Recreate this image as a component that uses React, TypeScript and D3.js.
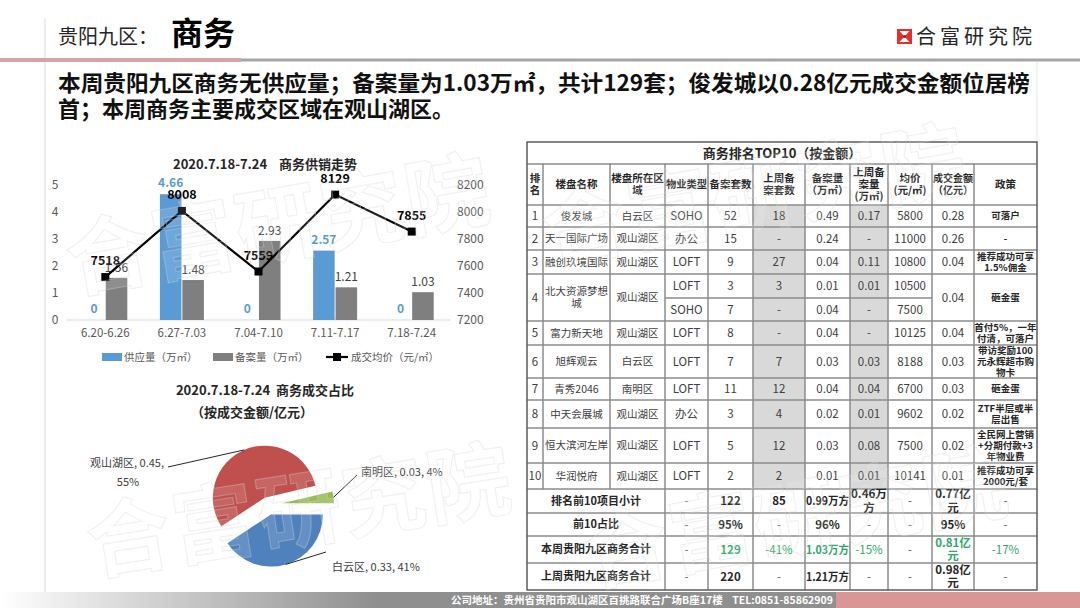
import React from "react";
import * as d3 from "d3";

// ---------- chart data ----------
const weeks = ["6.20-6.26", "6.27-7.03", "7.04-7.10", "7.11-7.17", "7.18-7.24"];
const supplyArea = [0, 4.66, 0, 2.57, 0];
const filedArea = [1.56, 1.48, 2.93, 1.21, 1.03];
const avgPrice = [7518, 8008, 7559, 8129, 7855];
const areaTicks = [0, 1, 2, 3, 4, 5];
const priceTicks = [7200, 7400, 7600, 7800, 8000, 8200];

const districts = ["南明区", "白云区", "观山湖区"];
const districtAmount = [0.03, 0.33, 0.45];
const districtShare = ["4%", "41%", "55%"];

// ---------- table data ----------
const tableHeaders = [
  "排\n名", "楼盘名称", "楼盘所在区\n域", "物业类型", "备案套数", "上周备\n案套数",
  "备案量\n（万㎡）", "上周备\n案量\n(万㎡)", "均价\n(元/㎡)", "成交金额\n（亿元）", "政策",
];
const projectNames = ["俊发城", "天一国际广场", "融创玖境国际", "北大资源梦想\n城", "富力新天地", "旭辉观云", "青秀2046", "中天会展城", "恒大滨河左岸", "华润悦府"];
const projectDistricts = ["白云区", "观山湖区", "观山湖区", "观山湖区", "观山湖区", "白云区", "南明区", "观山湖区", "观山湖区", "观山湖区"];
const propertyTypes = [["SOHO"], ["办公"], ["LOFT"], ["LOFT", "SOHO"], ["LOFT"], ["LOFT"], ["LOFT"], ["办公"], ["LOFT"], ["LOFT"]];
const filedUnits = [["52"], ["15"], ["9"], ["3", "7"], ["8"], ["7"], ["11"], ["3"], ["5"], ["2"]];
const lastWeekUnits = [["18"], ["-"], ["27"], ["3", "-"], ["-"], ["7"], ["12"], ["4"], ["12"], ["2"]];
const filedAreas = [["0.49"], ["0.24"], ["0.04"], ["0.01", "0.04"], ["0.04"], ["0.03"], ["0.04"], ["0.02"], ["0.03"], ["0.01"]];
const lastWeekAreas = [["0.17"], ["-"], ["0.11"], ["0.01", "-"], ["-"], ["0.03"], ["0.04"], ["0.01"], ["0.08"], ["0.01"]];
const unitPrices = [["5800"], ["11000"], ["10800"], ["10500", "7500"], ["10125"], ["8188"], ["6700"], ["9602"], ["7500"], ["10141"]];
const dealAmounts = ["0.28", "0.26", "0.04", "0.04", "0.04", "0.03", "0.03", "0.02", "0.02", "0.01"];
const policies = [
  "可落户", "-", "推荐成功可享\n1.5%佣金", "砸金蛋", "首付5%，一年\n付清，可落户",
  "带访奖励100\n元永辉超市购\n物卡", "砸金蛋", "ZTF半层或半\n层出售", "全民网上营销\n+分期付款+3\n年物业费", "推荐成功可享\n2000元/套",
];
const summaryLabels = ["排名前10项目小计", "前10占比", "本周贵阳九区商务合计", "上周贵阳九区商务合计"];
const summaryValues = [
  ["-", "122", "85", "0.99万方", "0.46万\n方", "-", "0.77亿\n元", "-"],
  ["-", "95%", "-", "96%", "-", "-", "95%", "-"],
  ["-", "129", "-41%", "1.03万方", "-15%", "-", "0.81亿\n元", "-17%"],
  ["-", "220", "-", "1.21万方", "-", "-", "0.98亿\n元", "-"],
];

const FONT = "'Noto Sans CJK SC', 'Noto Sans', sans-serif";
const BLUE = "#5b9bd5";
const GREY = "#7f7f7f";
const AXIS_TEXT = "#595959";

// table grid (layout)
const COLS = [527, 543, 610, 665, 708, 753, 805, 850, 888, 932, 974, 1037];
const ROWS = [142, 164, 205, 227, 250, 274, 298, 321, 345, 378, 400, 428, 463, 489, 513, 536, 563, 590];

const estWidth = (s: string, fs: number) => {
  let w = 0;
  for (const ch of s) w += /[\u0000-\u00ff]/.test(ch) ? 0.56 : 1;
  return w * fs;
};

function Watermarks() {
  const marks = [
    { x: 72, y: 292, a: -10 },
    { x: 92, y: 574, a: -9 },
    { x: 548, y: 262, a: -10 },
    { x: 590, y: 585, a: -10 },
  ];
  return (
    <g pointerEvents="none">
      {marks.map((m, i) => (
        <text
          key={i}
          x={m.x}
          y={m.y}
          transform={`rotate(${m.a},${m.x},${m.y})`}
          fontSize={84}
          fontWeight={700}
          fill="#ffffff"
          fillOpacity={0.12}
          stroke="#d4d4d4"
          strokeOpacity={0.35}
          strokeWidth={1.1}
          letterSpacing={2}
        >
          合富研究院
        </text>
      ))}
    </g>
  );
}

function Header() {
  return (
    <g>
      <line x1={45} y1={18} x2={45} y2={608} stroke="#d9d9d9" strokeWidth={1} />
      <line x1={1037} y1={62} x2={1037} y2={142} stroke="#e3e3e3" strokeWidth={1} />
      <text x={58} y={44} fontSize={20} fill="#262626">贵阳九区：</text>
      <text x={171} y={45} fontSize={32} fontWeight={700} fill="#000">商务</text>
      <rect x={0} y={58} width={241} height={4} fill="#d9a3a3" />
      <rect x={241} y={58.5} width={839} height={3} fill="#a6a6a6" />
      {/* logo */}
      <rect x={897} y={29} width={15} height={15} fill="#e2302a" />
      <polygon points="899.5,31 909.5,31 904.5,36.5" fill="#fff" />
      <polygon points="899.5,42 909.5,42 904.5,36.5" fill="#fff" />
      <rect x={903.3} y={35.3} width={2.4} height={2.4} fill="#7a1010" />
      <text x={916} y={44} fontSize={20} fill="#262626" letterSpacing={4}>合富研究院</text>
      <text x={58} y={91} fontSize={22} fontWeight={700} fill="#111" textLength={972} lengthAdjust="spacingAndGlyphs">
        本周贵阳九区商务无供应量；备案量为1.03万㎡，共计129套；俊发城以0.28亿元成交金额位居榜
      </text>
      <text x={58} y={117} fontSize={22} fontWeight={700} fill="#111">首；本周商务主要成交区域在观山湖区。</text>
    </g>
  );
}

function BarLineChart() {
  const x = d3.scaleBand<string>().domain(weeks).range([67, 450]);
  const sub = d3.scaleBand<string>().domain(["supply", "filed"]).range([-22, 22]).paddingInner(0.04);
  const yL = d3.scaleLinear().domain([0, 5]).range([320, 185]);
  const yR = d3.scaleLinear().domain([7200, 8200]).range([320, 185]);
  const cx = (w: string) => (x(w) ?? 0) + x.bandwidth() / 2;
  const bw = sub.bandwidth();
  const line = d3
    .line<number>()
    .x((_, i) => cx(weeks[i]))
    .y((d) => yR(d));

  return (
    <g>
      <text x={265} y={169} textAnchor="middle" fontSize={13} fontWeight={700} fill="#262626" xmlSpace="preserve">
        2020.7.18-7.24    商务供销走势
      </text>
      {areaTicks.map((t) => (
        <text key={t} x={55} y={yL(t)} dy="0.35em" textAnchor="middle" fontSize={12} fill={AXIS_TEXT}>{t}</text>
      ))}
      {priceTicks.map((t) => (
        <text key={t} x={457} y={yR(t)} dy="0.35em" fontSize={12} fill={AXIS_TEXT}>{t}</text>
      ))}
      <line x1={67} x2={450} y1={yL(0)} y2={yL(0)} stroke="#d9d9d9" />
      {weeks.map((w) => (
        <text key={w} x={cx(w)} y={337} textAnchor="middle" fontSize={11.5} fill={AXIS_TEXT}>{w}</text>
      ))}
      {weeks.map((w, i) => (
        <g key={w}>
          <rect x={cx(w) + (sub("supply") ?? 0)} y={yL(supplyArea[i])} width={bw} height={yL(0) - yL(supplyArea[i])} fill={BLUE} />
          <rect x={cx(w) + (sub("filed") ?? 0)} y={yL(filedArea[i])} width={bw} height={yL(0) - yL(filedArea[i])} fill={GREY} />
        </g>
      ))}
      {weeks.map((w, i) => (
        <g key={w + "l"}>
          <text x={cx(w) + (sub("supply") ?? 0) + bw / 2} y={yL(supplyArea[i]) - 7} textAnchor="middle" fontSize={12} fontWeight={700} fill={BLUE}>
            {supplyArea[i]}
          </text>
          <text x={cx(w) + (sub("filed") ?? 0) + bw / 2} y={yL(filedArea[i]) - 6} textAnchor="middle" fontSize={12} fill="#404040">
            {filedArea[i].toFixed(2)}
          </text>
        </g>
      ))}
      <path d={line(avgPrice) ?? ""} fill="none" stroke="#000" strokeWidth={2.2} />
      {avgPrice.map((p, i) => (
        <g key={i}>
          <rect x={cx(weeks[i]) - 4} y={yR(p) - 4} width={8} height={8} fill="#000" />
          <text x={cx(weeks[i])} y={yR(p) - 12} textAnchor="middle" fontSize={12.5} fontWeight={700} fill="#000">{p}</text>
        </g>
      ))}
      {/* legend */}
      <rect x={102} y={353} width={20} height={8} fill={BLUE} />
      <text x={124} y={357} dy="0.35em" fontSize={10.5} fill={AXIS_TEXT}>供应量（万㎡）</text>
      <rect x={213} y={353} width={20} height={8} fill={GREY} />
      <text x={235} y={357} dy="0.35em" fontSize={10.5} fill={AXIS_TEXT}>备案量（万㎡）</text>
      <line x1={326} x2={348} y1={357} y2={357} stroke="#000" strokeWidth={2.2} />
      <rect x={333} y={353} width={8} height={8} fill="#000" />
      <text x={351} y={357} dy="0.35em" fontSize={10.5} fill={AXIS_TEXT}>成交均价（元/㎡）</text>
    </g>
  );
}

function PieChart() {
  const total = d3.sum(districtAmount);
  const start = Math.PI / 2 - (2 * Math.PI * districtAmount[0]) / total;
  const arcs = d3.pie<number>().sort(null).startAngle(start).endAngle(start + 2 * Math.PI)(districtAmount);
  const R = 52;
  const c = { x: 268, y: 505 };
  const explode = [14, 10, 8];
  const colors = ["#9bbb59", "#4f81bd", "#c0504d"];
  const arc = d3.arc<d3.PieArcDatum<number>>().innerRadius(0).outerRadius(R);
  // label anchor points (leader line ends)
  const anchors = [
    { x: 357, y: 475 },
    { x: 326, y: 552 },
    { x: 168, y: 467 },
  ];
  return (
    <g>
      <text x={265} y={395} textAnchor="middle" fontSize={13} fontWeight={700} fill="#262626" xmlSpace="preserve">
        2020.7.18-7.24  商务成交占比
      </text>
      <text x={252} y={417} textAnchor="middle" fontSize={13} fontWeight={700} fill="#262626">（按成交金额/亿元）</text>
      {arcs.map((a, i) => {
        const mid = (a.startAngle + a.endAngle) / 2;
        const ox = Math.sin(mid) * explode[i];
        const oy = -Math.cos(mid) * explode[i];
        const ex = c.x + Math.sin(mid) * (R + explode[i]);
        const ey = c.y - Math.cos(mid) * (R + explode[i]);
        return (
          <g key={i}>
            <path d={arc(a) ?? ""} transform={`translate(${c.x + ox},${c.y + oy})`} fill={colors[i]} />
            <line x1={ex} y1={ey} x2={anchors[i].x} y2={anchors[i].y} stroke="#262626" strokeWidth={1} />
          </g>
        );
      })}
      <text x={361} y={476} fontSize={11} fill="#404040">{`${districts[0]}, ${districtAmount[0]}, ${districtShare[0]}`}</text>
      <text x={332} y={571} fontSize={11} fill="#404040">{`${districts[1]}, ${districtAmount[1]}, ${districtShare[1]}`}</text>
      <text x={164} y={467} textAnchor="end" fontSize={11} fill="#404040">{`${districts[2]}, ${districtAmount[2]},`}</text>
      <text x={128} y={486} textAnchor="middle" fontSize={11} fill="#404040">{districtShare[2]}</text>
    </g>
  );
}

type Cell = { r: number; rs: number; c: number; cs: number; text: string; fs: number; bold?: boolean; color?: string; fill?: string };

function RankTable() {
  const cells: Cell[] = [];
  cells.push({ r: 0, rs: 1, c: 0, cs: 11, text: "商务排名TOP10（按金额）", fs: 13, bold: true, color: "#262626" });
  tableHeaders.forEach((h, c) => cells.push({ r: 1, rs: 1, c, cs: 1, text: h, fs: 10.5, bold: true, color: "#262626" }));
  let r = 2;
  projectNames.forEach((name, i) => {
    const n = propertyTypes[i].length;
    cells.push({ r, rs: n, c: 0, cs: 1, text: String(i + 1), fs: 11.5 });
    cells.push({ r, rs: n, c: 1, cs: 1, text: name, fs: 10.5 });
    cells.push({ r, rs: n, c: 2, cs: 1, text: projectDistricts[i], fs: 10.5 });
    for (let k = 0; k < n; k++) {
      [propertyTypes, filedUnits, lastWeekUnits, filedAreas, lastWeekAreas, unitPrices].forEach((arr, j) =>
        cells.push({
          r: r + k, rs: 1, c: 3 + j, cs: 1, text: arr[i][k], fs: 11.5,
          fill: j === 2 || j === 4 ? "#d9d9d9" : undefined,
        })
      );
    }
    cells.push({ r, rs: n, c: 9, cs: 1, text: dealAmounts[i], fs: 11.5 });
    cells.push({ r, rs: n, c: 10, cs: 1, text: policies[i], fs: 9.5, bold: true, color: "#262626" });
    r += n;
  });
  summaryLabels.forEach((lab, i) => {
    cells.push({ r, rs: 1, c: 0, cs: 3, text: lab, fs: 11, bold: true, color: "#262626" });
    summaryValues[i].forEach((v, j) => {
      const dash = v === "-";
      const green = i === 2 && !dash;
      const pct = green && v.includes("%");
      cells.push({
        r, rs: 1, c: 3 + j, cs: 1, text: v, fs: 11.5,
        bold: !dash && !pct, color: green ? "#2ba86a" : dash ? "#595959" : "#262626",
      });
    });
    r++;
  });

  const geom = (cl: Cell) => ({
    x0: COLS[cl.c], x1: COLS[cl.c + cl.cs], y0: ROWS[cl.r], y1: ROWS[cl.r + cl.rs],
  });

  return (
    <g>
      <rect x={COLS[0]} y={ROWS[0]} width={COLS[11] - COLS[0]} height={ROWS[17] - ROWS[0]} fill="#fff" fillOpacity={0.6} />
      {cells.filter((cl) => cl.fill).map((cl, i) => {
        const g = geom(cl);
        return <rect key={"f" + i} x={g.x0} y={g.y0} width={g.x1 - g.x0} height={g.y1 - g.y0} fill={cl.fill} />;
      })}
      {cells.map((cl, i) => {
        const g = geom(cl);
        return <rect key={"b" + i} x={g.x0} y={g.y0} width={g.x1 - g.x0} height={g.y1 - g.y0} fill="none" stroke="#8c8c8c" strokeWidth={1} />;
      })}
      <rect x={COLS[0]} y={ROWS[0]} width={COLS[11] - COLS[0]} height={ROWS[17] - ROWS[0]} fill="none" stroke="#595959" strokeWidth={1.2} />
      {cells.map((cl, i) => {
        const g = geom(cl);
        const lines = cl.text.split("\n");
        const lh = cl.fs * 1.16;
        const cx = (g.x0 + g.x1) / 2;
        const cy = (g.y0 + g.y1) / 2;
        const maxW = g.x1 - g.x0 - 2;
        return (
          <g key={"t" + i}>
            {lines.map((ln, k) => {
              const w = estWidth(ln, cl.fs);
              const fit = w > maxW ? { textLength: maxW, lengthAdjust: "spacingAndGlyphs" } : {};
              return (
                <text
                  key={k}
                  x={cx}
                  y={cy + (k - (lines.length - 1) / 2) * lh}
                  dy="0.36em"
                  textAnchor="middle"
                  fontSize={cl.fs}
                  fontWeight={cl.bold ? 700 : 400}
                  fill={cl.color ?? "#404040"}
                  {...fit}
                >
                  {ln}
                </text>
              );
            })}
          </g>
        );
      })}
    </g>
  );
}

function Footer() {
  return (
    <g>
      <defs>
        <linearGradient id="footGrad" x1="0" x2="1" y1="0" y2="0">
          <stop offset="0" stopColor="#ffffff" />
          <stop offset="0.45" stopColor="#8f8f8f" />
          <stop offset="1" stopColor="#8f8f8f" />
        </linearGradient>
      </defs>
      <rect x={0} y={592} width={836} height={16} fill="url(#footGrad)" />
      <rect x={836} y={592} width={244} height={16} fill="#d99694" />
      <text x={642} y={600} dy="0.36em" textAnchor="middle" fontSize={10.5} fontWeight={700} fill="#fff" xmlSpace="preserve">
        公司地址：贵州省贵阳市观山湖区百挑路联合广场B座17楼    TEL:0851-85862909
      </text>
    </g>
  );
}

export default function App() {
  return (
    <div style={{ width: 1080, height: 608 }}>
      <svg
        width={1080}
        height={608}
        viewBox="0 0 1080 608"
        style={{ position: "absolute", left: 0, top: 0 }}
        fontFamily={FONT}
      >
        <rect width={1080} height={608} fill="#fff" />
        <Header />
        <BarLineChart />
        <PieChart />
        <RankTable />
        <Footer />
        <Watermarks />
      </svg>
    </div>
  );
}
